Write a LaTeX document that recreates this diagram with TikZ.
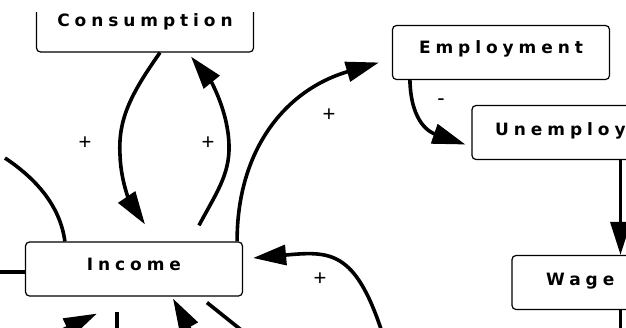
\documentclass[tikz,border=0pt]{standalone}
\usepackage{fontspec}
\setmainfont{Liberation Sans}
\newfontfamily\boxfont{DejaVu Sans}[LetterSpace=29]
\usetikzlibrary{arrows.meta}

\tikzset{
  boxfont/.style={font=\boxfont\bfseries\fontsize{17}{19}\selectfont},
  box/.style={draw, line width=1.2pt, rounded corners=4pt, fill=white,
    minimum width=217pt, inner xsep=0pt, inner ysep=0pt,
    text height=28pt, text depth=26pt, boxfont},
  boxtext/.style={inner sep=0pt, anchor=base west, boxfont},
  flow/.style={line width=3.6pt, -{Triangle[length=33pt,width=20pt]}},
  wire/.style={line width=3.6pt},
  sign/.style={font=\fontsize{22}{24}\selectfont, inner sep=0pt}
}

\begin{document}
\begin{tikzpicture}[x=1pt, y=-1pt]
  \useasboundingbox (0,0) rectangle (626,327);
  \clip (0,0) rectangle (626,327);

  % the upper box runs off the top of the sheet
  \begin{scope}
    \clip (0,12) rectangle (626,80);
    \node[box] (con) at (145,25) {Consumption};
  \end{scope}
  \node[box] (emp) at (501,52.5) {Employment};
  \node[box] (inc) at (134,269) {Income};
  % the two right-hand boxes run off the right edge
  \node[box] (unemp) at (580.5,132.5) {};
  \node[boxtext] (unempText) at (495,135) {Unemploy};
  \node[box] (wage) at (620.5,282.5) {};
  \node[boxtext] (wageText) at (546,285) {Wage};

  % free ends of connectors
  \coordinate (conIn)   at ([xshift=11pt,yshift=17pt]inc.north);
  \coordinate (incOut)  at ([xshift=65pt,yshift=16pt]inc.north);
  \coordinate (conTip)  at ([xshift=46pt,yshift=-4pt]con.south);
  \coordinate (empTip)  at ([xshift=-13pt,yshift=-10pt]emp.west);
  \coordinate (uneTip)  at ([xshift=-6pt,yshift=-12pt]unemp.west);
  \coordinate (incTipR) at ([xshift=10pt,yshift=11pt]inc.east);
  \coordinate (incTipB) at ([xshift=72pt,yshift=-17pt]inc.south west);
  \coordinate (incTipC) at ([xshift=39pt,yshift=-2pt]inc.south);

  % Consumption -> Income
  \draw[flow] ([xshift=15pt]con.south)
    .. controls (130,95) and (118,120) .. (120,155)
    .. controls (121,185) and (132,205) .. (conIn);
  % Income -> Consumption
  \draw[flow] (incOut)
    .. controls (215,195) and (230,175) .. (229,145)
    .. controls (228,110) and (210,80) .. (conTip);
  % Income -> Employment
  \draw[flow] ([xshift=-6pt]inc.north east)
    .. controls (237,150) and (285,90) .. (empTip);
  % Employment -> Unemployment
  \draw[flow] ([xshift=18pt]emp.south west)
    .. controls (411,125) and (432,133) .. (uneTip);
  % Unemployment -> Wage
  \draw[flow] (unemp.south -| wage.north) -- (wage.north);
  % Wage, onward
  \draw[wire] (wage.south) -- ++(0,30);
  % from below right into Income
  \draw[flow] (382,332) .. controls (355,250) and (330,251) .. (incTipR);
  % from the left into Income
  \draw[wire] (5,158) .. controls (35,178) and (60,205) .. ([xshift=40pt]inc.north west);
  \draw[wire] ([yshift=-3pt]inc.west) -- ++(-30,0);
  % connectors below Income
  \draw[flow] (25,348) -- (incTipB);
  \draw[wire] ([xshift=92pt,yshift=-15pt]inc.south west) -- ++(0,30);
  \draw[flow] (207,360) -- (incTipC);
  \draw[wire] ([xshift=73pt,yshift=-6pt]inc.south) -- ++(40,32);

  % polarity signs
  \node[sign] (s1) at (85,143) {+};
  \node[sign] (s2) at (208,143) {+};
  \node[sign] (s3) at (329,115) {+};
  \node[sign] (s4) at (441,102) {-};
  \node[sign] (s5) at (320,279) {+};
\end{tikzpicture}
\end{document}
